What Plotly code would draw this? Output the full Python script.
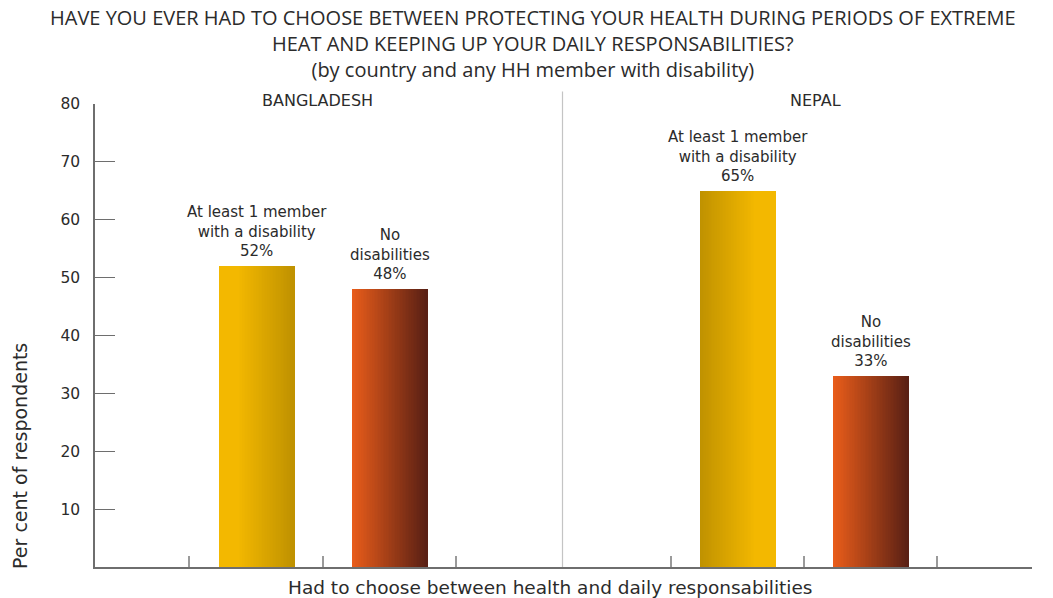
import plotly.graph_objects as go

# ---- data ----
countries = ["BANGLADESH", "NEPAL"]
groups = ["At least 1 member<br>with a disability", "No<br>disabilities"]
values_bangladesh = [52, 48]
values_nepal = [65, 33]
y_ticks = [10, 20, 30, 40, 50, 60, 70, 80]
title_lines = [
    "HAVE YOU EVER HAD TO CHOOSE BETWEEN PROTECTING YOUR HEALTH DURING PERIODS OF EXTREME",
    "HEAT AND KEEPING UP YOUR DAILY RESPONSABILITIES?",
    "(by country and any HH member with disability)",
]

# ---- layout positions (x axis in slot units) ----
bar_centers = [[1.211, 2.209], [4.819, 5.820]]
bar_width = 0.5625
x_ticks = [0.707, 1.710, 2.708, 4.318, 5.318, 6.313, 7.025]
divider_x = 3.505
x_max = 7.025
header_x = [1.669, 5.404]

yellow_bright = (243, 184, 0)
yellow_dark = (192, 146, 0)
orange_bright = (232, 92, 26)
orange_dark = (90, 32, 20)

# gradient per bar: (left colour, right colour, bright side)
gradients = [
    [(yellow_bright, yellow_dark, "left"), (orange_bright, orange_dark, "left")],
    [(yellow_dark, yellow_bright, "right"), (orange_bright, orange_dark, "left")],
]

FONT = "DejaVu Sans"
TEXT = "#2b2b2b"
AXIS = "#6e6e6e"

fig = go.Figure()

N = 48
all_values = [values_bangladesh, values_nepal]
for ci in range(2):
    for gi in range(2):
        v = all_values[ci][gi]
        c0, c1, bright = gradients[ci][gi]
        cx = bar_centers[ci][gi]
        step = bar_width / N
        xs, cols = [], []
        for i in range(N):
            t = i / (N - 1)
            # yellow holds its bright tone a little before blending
            if gi == 0:
                if bright == "left":
                    t = max(0.0, (t - 0.25) / 0.75)
                else:
                    t = min(1.0, t / 0.75)
            rgb = [int(round(a + (b - a) * t)) for a, b in zip(c0, c1)]
            xs.append(cx - bar_width / 2 + (i + 0.5) * step)
            cols.append("rgb(%d,%d,%d)" % tuple(rgb))
        fig.add_trace(go.Bar(
            x=xs, y=[v] * N, width=[step * 1.6] * N,
            marker=dict(color=cols, line=dict(width=0)),
            showlegend=False, hoverinfo="skip",
        ))
        fig.add_annotation(
            x=cx, y=v, xref="x", yref="y",
            text=f"{groups[gi]}<br>{v}%",
            showarrow=False, yanchor="bottom", yshift=4,
            font=dict(family=FONT, size=15, color=TEXT),
        )

for ci, name in enumerate(countries):
    fig.add_annotation(
        x=header_x[ci], y=1.0, xref="x", yref="paper",
        text=name, showarrow=False, yanchor="middle", yshift=4,
        font=dict(family=FONT, size=16, color=TEXT),
    )

# three-line title
fig.add_annotation(
    x=0.4675, y=1.1317, xref="paper", yref="paper",
    text="<br>".join(title_lines), showarrow=False,
    xanchor="center", yanchor="middle",
    font=dict(family="Open Sans", size=20, color=TEXT),
)

# panel divider
fig.add_shape(type="line", xref="x", yref="paper",
              x0=divider_x, x1=divider_x, y0=0, y1=1.027,
              line=dict(color="#c4c4c4", width=1.2))

# axis titles
fig.add_annotation(
    x=-0.08, y=0.24, xref="paper", yref="paper",
    text="Per cent of respondents", textangle=-90, showarrow=False,
    xanchor="center", yanchor="middle",
    font=dict(family=FONT, size=19, color=TEXT),
)
fig.add_annotation(
    x=0.486, y=0, xref="paper", yref="paper",
    text="Had to choose between health and daily responsabilities",
    showarrow=False, xanchor="center", yanchor="top", yshift=-8,
    font=dict(family=FONT, size=18.5, color=TEXT),
)

fig.update_layout(
    width=1053, height=598,
    margin=dict(l=95, r=21, t=104, b=31),
    paper_bgcolor="white", plot_bgcolor="white",
    barmode="overlay", bargap=0,
    xaxis=dict(
        range=[0, x_max], showgrid=False, zeroline=False,
        showline=True, linecolor=AXIS, linewidth=1.5,
        tickmode="array", tickvals=x_ticks, ticktext=[""] * len(x_ticks),
        ticks="inside", ticklen=11, tickcolor="#9a9a9a", tickwidth=1.5,
    ),
    yaxis=dict(
        range=[0, 80], showgrid=False, zeroline=False,
        showline=True, linecolor=AXIS, linewidth=1.5,
        tickmode="array", tickvals=y_ticks,
        ticks="inside", ticklen=20, tickcolor=AXIS, tickwidth=1.2,
        ticklabelstandoff=10,
        tickfont=dict(family=FONT, size=15.5, color=TEXT),
    ),
)

fig.write_html("out.html")
